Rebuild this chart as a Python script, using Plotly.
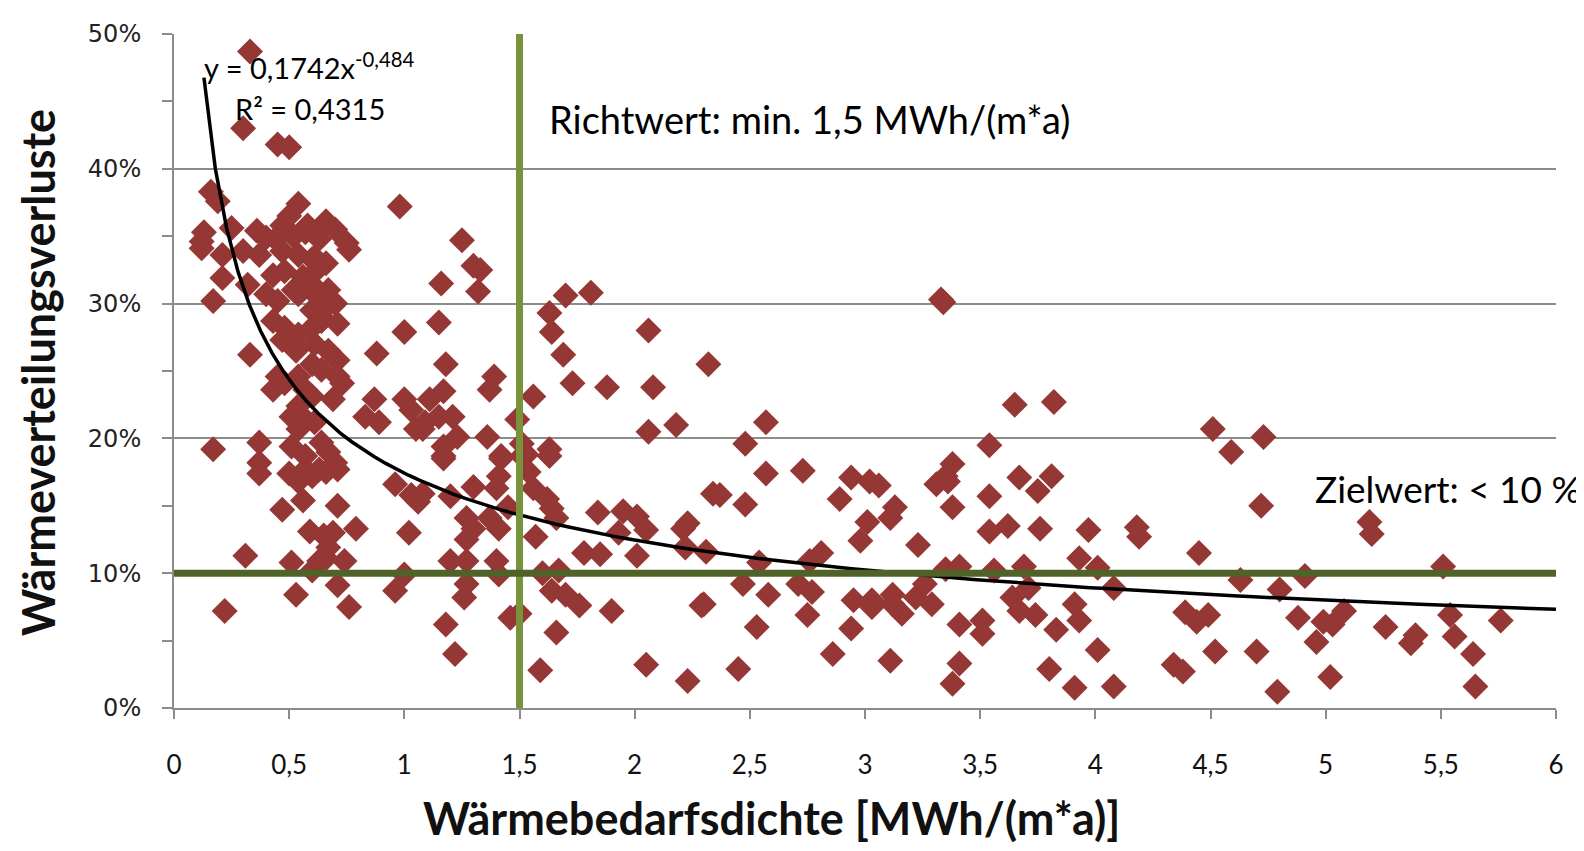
import plotly.graph_objects as go

# ---- data: (x = Wärmebedarfsdichte [MWh/(m*a)], y = Wärmeverteilungsverluste [%]) ----
x_a = [0.33,0.30,0.45,0.50,0.16,0.19,0.54,0.98,0.66,0.13,0.25,0.36,0.47,0.57,0.63,0.75,
       0.12,0.52,0.58,0.70,0.60,0.66,0.56,0.62,0.52,0.67,0.70,0.60,0.64,0.50,0.44,0.40]
y_a = [48.7,43.0,41.8,41.6,38.3,37.6,37.4,37.2,36.1,35.3,35.6,35.4,35.8,35.3,34.8,34.5,
       34.6,35.0,35.8,35.5,33.3,33.0,32.0,32.5,31.0,31.0,30.0,29.5,29.0,36.5,34.8,34.9]

x_b = [0.12,0.21,0.30,0.37,0.47,0.54,0.61,0.64,0.76,0.21,0.32,0.43,0.48,0.17,0.40,0.45,0.54,0.60,
       0.63,0.66,0.43,0.48,0.54,0.60,0.64,0.71,1.00,0.47,0.53,0.61,0.67,0.71,0.33,0.88,0.45,0.48,
       0.54,0.60,0.64,0.71,0.73,0.43,0.57,0.60,0.69,0.87,0.83,0.89,1.00,1.03,1.05,1.09,0.54,0.57,
       0.51,0.54,0.61,0.17,0.37,0.37,0.51,0.57,0.64,0.67,0.70,0.57,0.63]
y_b = [34.1,33.6,33.9,33.6,33.9,33.6,33.4,32.9,34.0,31.9,31.4,32.1,32.4,30.2,30.7,30.2,30.7,31.4,
       30.4,29.7,28.7,28.2,27.7,28.2,28.7,28.5,27.9,27.3,26.5,27.0,26.5,25.8,26.2,26.3,24.6,24.1,
       24.6,25.5,25.1,24.6,24.1,23.6,23.6,23.1,22.9,22.9,21.6,21.2,22.9,22.1,20.7,21.2,22.4,21.4,
       21.6,20.7,21.2,19.2,19.7,18.2,19.4,18.7,19.7,19.0,18.2,17.7,17.7]

x_c = [0.37,0.50,0.54,0.60,0.66,0.71,0.56,0.47,0.71,0.96,1.03,1.06,0.59,0.65,0.69,0.79,0.67,0.66,
       0.74,1.02,0.31,0.51,0.60,0.63,1.00,0.96,0.53,0.71,0.76,0.22]
y_c = [17.4,17.4,16.8,17.2,17.5,17.7,15.4,14.7,15.0,16.6,15.8,15.3,13.1,12.8,13.0,13.3,11.9,11.1,
       10.9,13.0,11.3,10.8,10.2,10.9,9.9,8.7,8.4,9.1,7.5,7.2]

x_d = [1.25,1.30,1.33,1.16,1.32,1.70,1.81,1.63,1.64,1.15,2.06,1.69,1.18,2.32,1.73,1.88,2.08,1.39,
       1.37,1.56,1.17,1.11,1.21,1.15,1.08,1.49,2.06,2.18,1.36,1.23,1.17,1.17,1.42,1.51,1.53,1.63]
y_d = [34.7,32.8,32.5,31.5,30.9,30.6,30.8,29.3,27.9,28.6,28.0,26.2,25.5,25.5,24.1,23.8,23.8,24.6,
       23.6,23.1,23.5,22.9,21.6,21.6,20.7,21.4,20.5,21.0,20.1,20.1,19.4,18.7,18.7,19.6,18.8,19.2]

x_e = [1.17,1.42,1.51,1.63,1.08,1.20,1.30,1.41,1.40,1.54,1.56,1.62,1.64,1.27,1.30,1.37,1.41,1.45,
       1.27,1.57,1.66,1.84,1.95,2.01,2.05,1.93,2.21,2.23,2.22,2.34,2.31,1.78,1.85,2.01,1.20,1.27,
       1.40,1.41,1.60,1.67,1.27,1.26,1.64,1.70,1.76,1.90,2.29,1.18,1.50,1.46,1.66,1.22,1.59,2.05,2.23]
y_e = [18.5,18.5,18.7,18.7,15.9,15.7,16.4,17.2,16.3,17.5,16.3,15.5,14.8,14.1,13.3,14.1,13.3,14.9,
       12.5,12.7,14.1,14.5,14.6,14.2,13.2,13.0,13.3,13.7,11.9,15.9,11.6,11.5,11.4,11.3,10.9,10.9,
       10.9,9.9,10.0,10.2,9.2,8.2,8.7,8.4,7.6,7.2,7.6,6.2,7.0,6.7,5.6,4.0,2.8,3.2,2.0]

x_f = [3.33,3.34,3.65,3.82,2.57,2.48,3.54,2.57,2.73,3.38,3.35,3.31,3.36,3.67,3.81,2.37,2.48,2.94,
       3.02,3.06,2.89,3.13,3.11,3.54,3.75,3.38,3.54,3.62,3.76,3.97,3.01,2.98,3.23,2.81,2.76,2.54,
       3.93,4.01,3.35,3.41,3.56,3.69,2.30,2.47,2.58,2.71,2.77,2.75,2.53,2.45,2.86,2.95,3.03,3.03,
       3.12,3.12,3.16,2.94,3.11,3.22,3.29,3.26,3.41,3.41,3.38,3.51,3.51,3.64,3.67,3.74,3.71,3.83,
       3.80,3.91,3.93,4.01,3.91,4.08,4.08]
y_f = [30.3,30.1,22.5,22.7,21.2,19.6,19.5,17.4,17.6,18.1,17.2,16.6,16.8,17.1,17.2,15.8,15.1,17.1,
       16.8,16.5,15.5,14.9,14.1,15.7,16.1,14.9,13.1,13.5,13.3,13.2,13.8,12.4,12.1,11.5,10.9,10.8,
       11.1,10.4,10.3,10.5,10.2,10.5,7.7,9.2,8.4,9.2,8.6,6.9,6.0,2.9,4.0,8.0,8.0,7.5,
       8.4,7.7,7.0,5.9,3.5,8.2,7.7,9.2,6.2,3.3,1.8,6.5,5.5,8.2,7.2,6.9,8.9,5.8,
       2.9,7.7,6.5,4.3,1.5,1.6,8.9]

x_g = [4.51,4.59,4.73,4.72,4.18,4.19,5.19,5.20,4.45,4.63,4.80,4.91,5.51,4.39,4.44,4.49,4.88,4.99,
       5.03,5.08,5.26,5.39,5.37,5.54,5.56,5.76,4.34,4.38,4.52,4.70,4.79,4.96,5.02,5.64,5.65]
y_g = [20.7,19.0,20.1,15.0,13.4,12.7,13.8,12.9,11.5,9.5,8.8,9.8,10.5,7.1,6.4,6.9,6.7,6.4,
       6.2,7.2,6.0,5.4,4.8,6.9,5.3,6.5,3.2,2.7,4.2,4.2,1.2,4.9,2.3,4.0,1.6]

x_vals = x_a + x_b + x_c + x_d + x_e + x_f + x_g
y_vals = y_a + y_b + y_c + y_d + y_e + y_f + y_g

# power trendline shown on the chart: y = 0,1742 x^-0,484
trend_a = 0.1742
trend_b = -0.484
trend_x0, trend_x1 = 0.13, 6.0

richtwert_x = 1.5      # MWh/(m*a)
zielwert_y = 10        # %

x_tickvals = [0, 0.5, 1, 1.5, 2, 2.5, 3, 3.5, 4, 4.5, 5, 5.5, 6]
x_ticktext = ["0", "0,5", "1", "1,5", "2", "2,5", "3", "3,5", "4", "4,5", "5", "5,5", "6"]
y_tickvals = [0, 10, 20, 30, 40, 50]
y_ticktext = ["0%", "10%", "20%", "30%", "40%", "50%"]

# ---- figure ----
n = 120
tx = [trend_x0 + (trend_x1 - trend_x0) * i / (n - 1) for i in range(n)]
ty = [100 * trend_a * v ** trend_b for v in tx]

fig = go.Figure()
fig.add_trace(go.Scatter(
    x=x_vals, y=y_vals, mode="markers",
    marker=dict(symbol="diamond", size=20, color="#953735", line=dict(width=0)),
    hoverinfo="x+y", showlegend=False))
fig.add_trace(go.Scatter(x=tx, y=ty, mode="lines",
                         line=dict(color="black", width=3.5), showlegend=False, hoverinfo="skip"))
fig.add_trace(go.Scatter(x=[richtwert_x, richtwert_x], y=[0, 50], mode="lines",
                         line=dict(color="#77933C", width=7), showlegend=False, hoverinfo="skip"))
fig.add_trace(go.Scatter(x=[0, 6], y=[zielwert_y, zielwert_y], mode="lines",
                         line=dict(color="#4F6228", width=7), showlegend=False, hoverinfo="skip"))

fig.update_xaxes(
    range=[0, 6], tickvals=x_tickvals, ticktext=x_ticktext,
    showgrid=False, zeroline=False,
    showline=True, linecolor="#8C8C8C", linewidth=2,
    ticks="outside", ticklen=9, tickwidth=2, tickcolor="#8C8C8C",
    tickfont=dict(family="Lato, Liberation Sans", size=26, color="#111111"),
    ticklabelstandoff=24,
)
fig.update_yaxes(
    range=[0, 50], tickvals=y_tickvals, ticktext=y_ticktext,
    showgrid=True, gridcolor="#8C8C8C", gridwidth=2, zeroline=False,
    showline=True, linecolor="#8C8C8C", linewidth=2,
    ticks="outside", ticklen=10, tickwidth=2, tickcolor="#8C8C8C",
    minor=dict(dtick=5, ticks="outside", ticklen=10, tickwidth=2, tickcolor="#8C8C8C", showgrid=False),
    tickfont=dict(family="DejaVu Sans", size=24, color="#222222"),
    ticklabelstandoff=16,
)

ann_font = dict(family="Lato, Liberation Sans", color="black")
title_font = dict(family="Lato, Liberation Sans", color="#111111")
fig.update_layout(
    width=1568, height=835,
    margin=dict(l=166, r=17, t=18, b=135),
    plot_bgcolor="white", paper_bgcolor="white",
    annotations=[
        dict(text="y = 0,1742x<sup>-0,484</sup>", x=0.12, y=47.6, xref="x", yref="y",
             xanchor="left", yanchor="middle", showarrow=False, font=dict(size=29, **ann_font)),
        dict(text="R² = 0,4315", x=0.255, y=44.5, xref="x", yref="y",
             xanchor="left", yanchor="middle", showarrow=False, font=dict(size=29, **ann_font)),
        dict(text="Richtwert: min. 1,5 MWh/(m*a)", x=1.62, y=43.7, xref="x", yref="y",
             xanchor="left", yanchor="middle", showarrow=False, font=dict(size=38, **ann_font)),
        dict(text="Zielwert: < 10 %", x=4.945, y=16.3, xref="x", yref="y",
             xanchor="left", yanchor="middle", showarrow=False, font=dict(size=37, **ann_font)),
        dict(text="<b>Wärmebedarfsdichte [MWh/(m*a)]</b>", x=0.4325, y=-0.163, xref="paper", yref="paper",
             xanchor="center", yanchor="middle", showarrow=False, font=dict(size=45, **title_font)),
        dict(text="<b>Wärmeverteilungsverluste</b>", x=-0.098, y=0.498, xref="paper", yref="paper",
             xanchor="center", yanchor="middle", showarrow=False, textangle=-90,
             font=dict(size=45, **title_font)),
    ],
)

fig.write_html("out.html")
